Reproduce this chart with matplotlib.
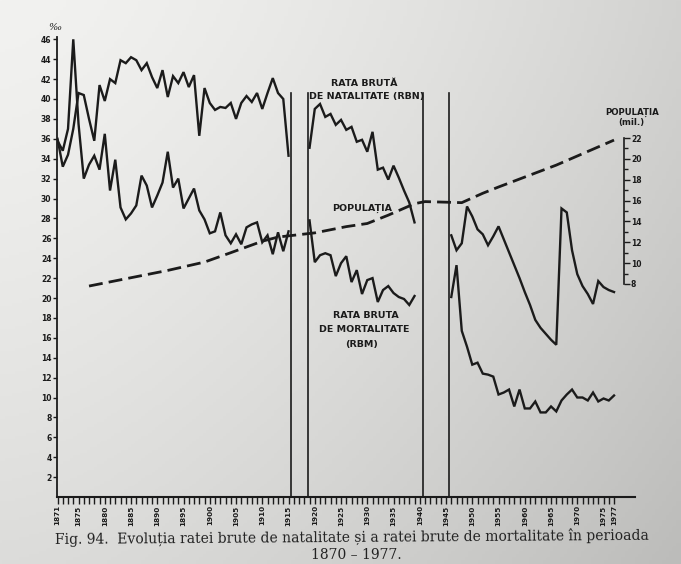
import numpy as np
import matplotlib
matplotlib.use("Agg")
import matplotlib.pyplot as plt
from matplotlib.ticker import FixedLocator, NullFormatter

# ===============================
# DATA
# ===============================
years_1 = list(range(1871, 1916))
rbn_1 = [36.0, 33.2, 34.4, 37.0, 40.6, 40.4, 38.0, 35.8, 41.4, 39.8,
         42.0, 41.6, 43.9, 43.6, 44.2, 43.9, 42.9, 43.6, 42.2, 41.1,
         42.9, 40.2, 42.3, 41.6, 42.7, 41.2, 42.4, 36.3, 41.1, 39.6,
         38.9, 39.2, 39.1, 39.6, 38.0, 39.6, 40.3, 39.7, 40.6, 39.0,
         40.6, 42.1, 40.6, 40.0, 34.3]
rbm_1 = [35.8, 34.8, 37.0, 46.0, 37.5, 32.0, 33.4, 34.3, 32.9, 36.5,
         30.8, 33.9, 29.1, 27.9, 28.5, 29.3, 32.3, 31.3, 29.1, 30.3,
         31.6, 34.7, 31.1, 32.0, 29.0, 30.0, 31.0, 28.8, 27.9, 26.5,
         26.7, 28.6, 26.3, 25.5, 26.4, 25.4, 27.1, 27.4, 27.6, 25.6,
         26.3, 24.4, 26.6, 24.7, 26.7]

years_2 = list(range(1919, 1940))
rbn_2 = [35.1, 39.0, 39.5, 38.2, 38.5, 37.4, 37.9, 36.9, 37.2, 35.7,
         35.9, 34.7, 36.7, 32.9, 33.1, 31.9, 33.3, 32.1, 30.8, 29.6, 27.6]
rbm_2 = [27.8, 23.6, 24.3, 24.5, 24.3, 22.2, 23.5, 24.2, 21.6, 22.8,
         20.4, 21.8, 22.0, 19.6, 20.8, 21.2, 20.5, 20.1, 19.9, 19.3, 20.2]

years_3 = list(range(1946, 1978))
rbn_3 = [26.3, 24.8, 25.5, 29.2, 28.2, 26.9, 26.4, 25.3, 26.2, 27.2,
         25.9, 24.6, 23.3, 22.0, 20.6, 19.3, 17.8, 17.0, 16.4, 15.8,
         15.3, 29.0, 28.6, 24.8, 22.4, 21.2, 20.4, 19.4, 21.7, 21.1,
         20.8, 20.6]
rbm_3 = [20.1, 23.3, 16.7, 15.1, 13.3, 13.5, 12.4, 12.3, 12.1, 10.3,
         10.5, 10.8, 9.1, 10.8, 8.9, 8.9, 9.6, 8.5, 8.5, 9.1,
         8.6, 9.7, 10.3, 10.8, 10.0, 10.0, 9.7, 10.5, 9.6, 9.9,
         9.7, 10.2]

# population (mil.)
pop_years = [1877, 1882, 1887, 1892, 1899, 1904, 1910, 1913, 1920, 1926,
             1930, 1934, 1939, 1941, 1948, 1952, 1955, 1966, 1977]
pop_values = [7.8, 8.3, 8.8, 9.3, 10.1, 11.0, 12.1, 12.5, 12.9, 13.5,
              13.8, 14.6, 15.7, 15.9, 15.8, 16.7, 17.3, 19.4, 21.8]

# war breaks
break_years = [1915.4, 1918.8, 1940.7, 1945.6]

year_labels = [1871, 1875, 1880, 1885, 1890, 1895, 1900, 1905, 1910, 1915,
               1920, 1925, 1930, 1935, 1940, 1945, 1950, 1955, 1960, 1965,
               1970, 1975, 1977]
left_ticks = list(range(2, 48, 2))
right_ticks = list(range(8, 23, 2))

# ===============================
# STYLE
# ===============================
INK = "#1b1b1b"
W, H = 681, 564
COND = ["Liberation Sans Narrow", "DejaVu Sans"]
SERIF = ["DejaVu Serif", "Liberation Serif"]

fig = plt.figure(figsize=(W / 100, H / 100), dpi=100)

# paper background (light top-left, darker bottom-right)
bg = fig.add_axes([0, 0, 1, 1], zorder=-10)
gx, gy = np.meshgrid(np.linspace(0, 1, 200), np.linspace(0, 1, 200))
shade = 242 - 32 * gx ** 1.5 - 22 * gy ** 1.3
bg.imshow(np.dstack([shade, shade, shade - 2]).clip(0, 255).astype(np.uint8),
          extent=[0, 1, 0, 1], aspect="auto", origin="upper")
bg.axis("off")


def fx(x):
    return x / W


def fy(y):
    return 1 - y / H


# ===============================
# MAIN AXES
# ===============================
left, right, bottom, top = 57, 635, 497, 34
ax = fig.add_axes([fx(left), fy(bottom), fx(right - left), (bottom - top) / H])
ax.patch.set_alpha(0)
ax.set_xlim(1870.9, 1870.9 + (right - left) / 5.25)
ax.set_ylim(0, (bottom - top) / 9.95)

for yrs, vals in [(years_1, rbn_1), (years_1, rbm_1), (years_2, rbn_2),
                  (years_2, rbm_2), (years_3, rbn_3), (years_3, rbm_3)]:
    ax.plot(yrs, vals, color=INK, lw=1.7, solid_joinstyle="miter", zorder=3)

for b in break_years:
    ax.plot([b, b], [0, 40.6], color=INK, lw=1.2, zorder=2)

for s in ["top", "right"]:
    ax.spines[s].set_visible(False)
ax.spines["left"].set_bounds(0, 46.2)
ax.spines["left"].set_linewidth(1.3)
ax.spines["bottom"].set_linewidth(1.5)
ax.spines["left"].set_color(INK)
ax.spines["bottom"].set_color(INK)

ax.set_yticks(left_ticks)
ax.set_yticklabels([str(t) for t in left_ticks])
ax.tick_params(axis="y", direction="out", length=3, width=1, pad=1,
               colors=INK, labelsize=5.5)
for lab in ax.get_yticklabels():
    lab.set_fontweight("bold")
    lab.set_family(COND)

ax.xaxis.set_major_locator(FixedLocator(year_labels))
ax.xaxis.set_minor_locator(FixedLocator(range(1871, 1978)))
ax.set_xticklabels([str(y) for y in year_labels], rotation=90)
ax.tick_params(axis="x", which="both", direction="out", length=5, width=1,
               colors=INK, labelsize=5.2, pad=1)
for lab in ax.get_xticklabels():
    lab.set_fontweight("bold")
    lab.set_family(COND)

# ===============================
# POPULATION AXIS
# ===============================
ax2 = ax.twinx()
v_lo, v_hi = ax.get_ylim()
scale = 14 / (36.08 - 21.41)
ax2.set_ylim(8 + (v_lo - 21.41) * scale, 8 + (v_hi - 21.41) * scale)
ax2.plot(pop_years, pop_values, color=INK, lw=2.0, dashes=(5, 2.2), zorder=3)
for s in ["top", "left", "bottom"]:
    ax2.spines[s].set_visible(False)
ax2.spines["right"].set_position(("axes", (624 - left) / (right - left)))
ax2.spines["right"].set_bounds(8, 22)
ax2.spines["right"].set_linewidth(1.2)
ax2.spines["right"].set_color(INK)
ax2.yaxis.set_major_locator(FixedLocator(right_ticks))
ax2.yaxis.set_minor_locator(FixedLocator(range(8, 23)))
ax2.yaxis.set_minor_formatter(NullFormatter())
ax2.set_yticklabels([str(t) for t in right_ticks])
ax2.tick_params(axis="y", which="major", direction="out", length=4, width=1,
                pad=1, colors=INK, labelsize=5.5)
ax2.tick_params(axis="y", which="minor", direction="out", length=3, width=1,
                colors=INK)
for lab in ax2.get_yticklabels():
    lab.set_fontweight("bold")
    lab.set_family(COND)

# ===============================
# LABELS
# ===============================
lbl = dict(color=INK, fontweight="bold", family=COND, ha="center", va="center")
fig.text(fx(55), fy(27), "‰", color=INK, family=SERIF, fontsize=7,
         ha="center", va="center", style="italic")
fig.text(fx(364), fy(83), "RATA BRUTĂ", fontsize=6.8, **lbl)
fig.text(fx(367), fy(97), "DE NATALITATE (RBN)", fontsize=6.8, **lbl)
fig.text(fx(362), fy(208), "POPULAȚIA", fontsize=6.8, **lbl)
fig.text(fx(366), fy(316), "RATA BRUTA", fontsize=6.8, **lbl)
fig.text(fx(364), fy(329), "DE MORTALITATE", fontsize=6.8, **lbl)
fig.text(fx(362), fy(344), "(RBM)", fontsize=6.8, **lbl)
fig.text(fx(632), fy(112), "POPULAȚIA", fontsize=6.2, **lbl)
fig.text(fx(631), fy(123), "(mil.)", fontsize=6.2, **lbl)

fig.text(fx(352), fy(537),
         "Fig. 94.  Evoluția ratei brute de natalitate și a ratei brute de "
         "mortalitate în perioada",
         color="#222222", family=SERIF, fontsize=10.0, ha="center",
         va="center", rotation=0.4)
fig.text(fx(356), fy(555), "1870 – 1977.", color="#222222", family=SERIF,
         fontsize=10.0, ha="center", va="center")

fig.savefig("out.png", dpi=100)
